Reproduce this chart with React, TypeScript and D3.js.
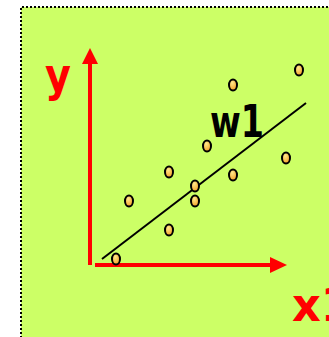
import React from "react";
import * as d3 from "d3";

const pointX = [1.3, 1.95, 3.95, 3.95, 5.25, 5.25, 5.85, 7.15, 7.15, 9.8, 10.45];
const pointY = [0.3, 3.2, 1.75, 4.65, 3.95, 3.2, 5.95, 4.5, 9.0, 5.35, 9.75];
const lineX = [0.6, 10.8];
const lineY = [0.3, 8.1];
const axisLabels = ["y", "x1"];
const lineLabel = "w1";

const W = 329;
const H = 337;

export default function App() {
  const x = d3.scaleLinear().domain([0, 10]).range([90, 290]);
  const y = d3.scaleLinear().domain([0, 10]).range([265, 65]);
  const pts = pointX.map((v, i) => ({ x: v, y: pointY[i] }));
  const line = d3
    .line<number>()
    .x((d) => x(lineX[d]))
    .y((d) => y(lineY[d]));
  const ox = x(0);
  const oy = y(0);
  const red = "#ff0000";
  const font = "'DejaVu Sans', sans-serif";
  return (
    <svg
      width={W}
      height={H}
      style={{ position: "absolute", left: 0, top: 0 }}
    >
      <defs>
        <radialGradient id="pg" cx="40%" cy="30%" r="70%">
          <stop offset="0%" stopColor="#ffe98a" />
          <stop offset="100%" stopColor="#f4a22a" />
        </radialGradient>
      </defs>
      <rect x={0} y={0} width={W} height={H} fill="#ffffff" />
      <rect x={21} y={7} width={W + 20} height={H + 20} fill="#ccff66" />
      <path
        d={`M21,${H + 5} L21,7 L${W + 5},7`}
        fill="none"
        stroke="#000"
        strokeWidth={2}
        strokeDasharray="2,2"
      />
      {/* y axis */}
      <line x1={ox} y1={oy} x2={ox} y2={y(10.05)} stroke={red} strokeWidth={4} />
      <polygon
        points={`${ox - 8},${y(10.05)} ${ox + 8},${y(10.05)} ${ox},${y(10.85)}`}
        fill={red}
      />
      {/* x axis */}
      <line x1={ox + 5} y1={oy} x2={x(9.1)} y2={oy} stroke={red} strokeWidth={4} />
      <polygon
        points={`${x(9.0)},${oy - 8} ${x(9.0)},${oy + 8} ${x(9.85)},${oy}`}
        fill={red}
      />
      <path d={line([0, 1]) || ""} stroke="#000" strokeWidth={2} fill="none" />
      {pts.map((p, i) => (
        <ellipse
          key={i}
          cx={x(p.x)}
          cy={y(p.y)}
          rx={4}
          ry={5.5}
          fill="url(#pg)"
          stroke="#000"
          strokeWidth={2}
        />
      ))}
      <text
        x={45}
        y={91}
        fontFamily={font}
        fontWeight="bold"
        fontSize={46}
        fill={red}
        textLength={26}
        lengthAdjust="spacingAndGlyphs"
      >
        {axisLabels[0]}
      </text>
      <text
        x={292}
        y={321}
        fontFamily={font}
        fontWeight="bold"
        fontSize={46}
        fill={red}
        textLength={60}
        lengthAdjust="spacingAndGlyphs"
      >
        {axisLabels[1]}
      </text>
      <text
        x={210}
        y={137}
        fontFamily={font}
        fontWeight="bold"
        fontSize={44}
        fill="#000"
        textLength={54}
        lengthAdjust="spacingAndGlyphs"
      >
        {lineLabel}
      </text>
    </svg>
  );
}
